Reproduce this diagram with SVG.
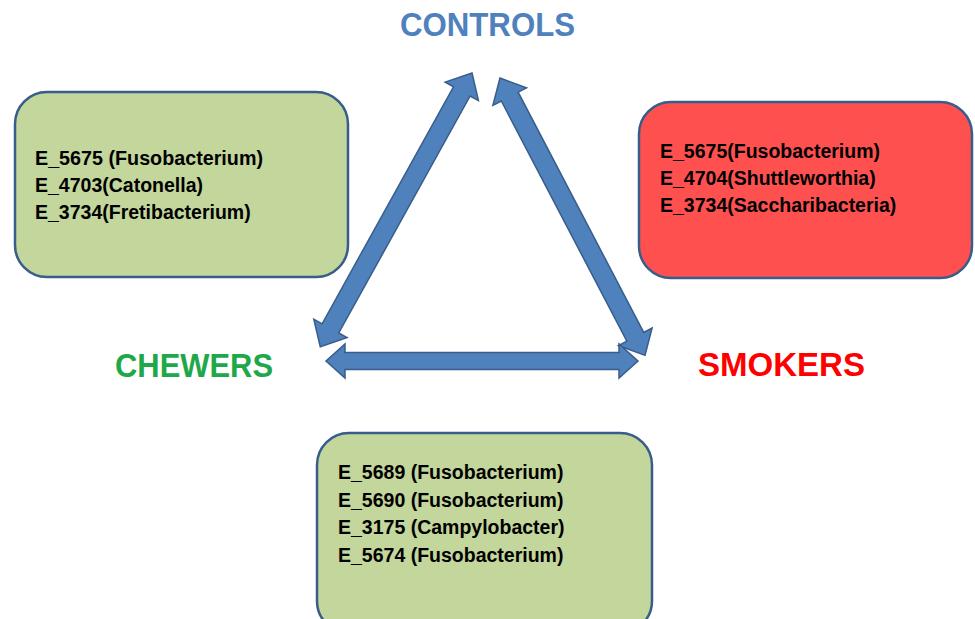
<svg xmlns="http://www.w3.org/2000/svg" width="975" height="619" viewBox="0 0 975 619">
<style>
.box{stroke:#385d8a;stroke-width:2.5}
.green{fill:#c3d69b}
.red{fill:#ff5050}
.t{font-family:"Liberation Sans",Arial,sans-serif;font-weight:bold;font-size:19.5px;fill:#000}
.title{font-family:"Liberation Sans",Arial,sans-serif;font-weight:bold;font-size:32.5px}
.arrow{fill:#4f81bd;stroke:#385d8a;stroke-width:1.5;stroke-linejoin:miter}
</style>
<rect width="975" height="619" fill="#fff"/>
<g id="connectors">
<path class="arrow" transform="translate(472,73) rotate(119)" d="M0,0 L21,-19 L21,-9.5 L292,-9.5 L292,-19 L313,0 L292,19 L292,9.5 L21,9.5 L21,19 Z"/>
<path class="arrow" transform="translate(500,78) rotate(62.4)" d="M0,0 L21,-19 L21,-9.5 L292,-9.5 L292,-19 L313,0 L292,19 L292,9.5 L21,9.5 L21,19 Z"/>
<path class="arrow" transform="translate(326,361)" d="M0,0 L19,-17 L19,-8.5 L293,-8.5 L293,-17 L312,0 L293,17 L293,8.5 L19,8.5 L19,17 Z"/>
</g>
<g id="controls">
<text class="title" x="400" y="36" fill="#4f81bd" textLength="175" lengthAdjust="spacingAndGlyphs">CONTROLS</text>
</g>
<g id="chewers">
<text class="title" x="115" y="377" fill="#1fa84a" textLength="158" lengthAdjust="spacingAndGlyphs">CHEWERS</text>
</g>
<g id="smokers">
<text class="title" x="698" y="376" fill="#ff0000" textLength="167" lengthAdjust="spacingAndGlyphs">SMOKERS</text>
</g>
<g id="chewers-box">
<rect class="box green" x="15" y="92" width="333" height="185" rx="32"/>
<text class="t" x="35" y="165" textLength="228" lengthAdjust="spacingAndGlyphs">E_5675 (Fusobacterium)</text>
<text class="t" x="35" y="192">E_4703(Catonella)</text>
<text class="t" x="35" y="219">E_3734(Fretibacterium)</text>
</g>
<g id="smokers-box">
<rect class="box red" x="639" y="102" width="333" height="176" rx="32"/>
<text class="t" x="660" y="158">E_5675(Fusobacterium)</text>
<text class="t" x="660" y="185">E_4704(Shuttleworthia)</text>
<text class="t" x="660" y="212">E_3734(Saccharibacteria)</text>
</g>
<g id="shared-box">
<rect class="box green" x="317" y="433" width="335" height="200" rx="32"/>
<text class="t" x="338" y="479">E_5689 (Fusobacterium)</text>
<text class="t" x="338" y="507">E_5690 (Fusobacterium)</text>
<text class="t" x="338" y="534">E_3175 (Campylobacter)</text>
<text class="t" x="338" y="562">E_5674 (Fusobacterium)</text>
</g>
</svg>
